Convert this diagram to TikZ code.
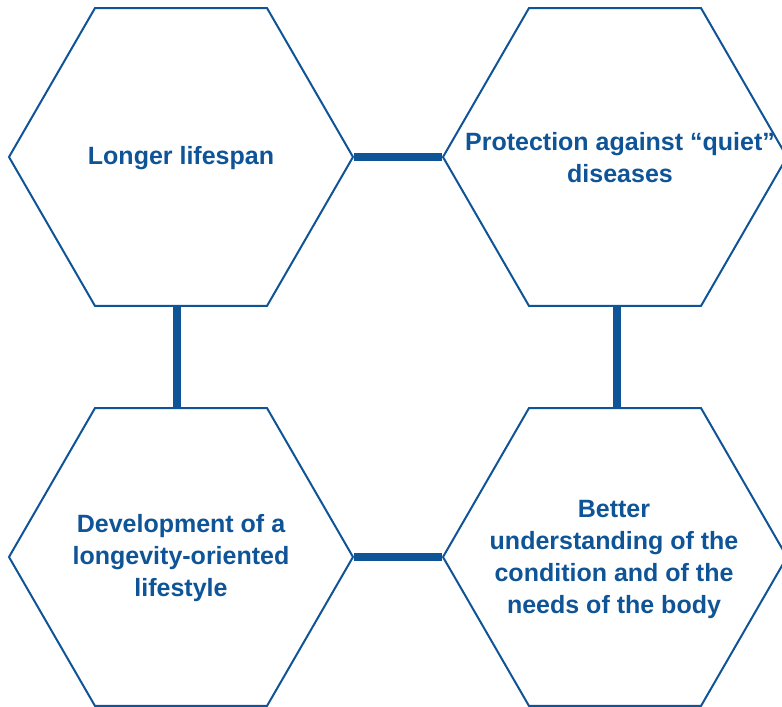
\documentclass[tikz,border=0pt]{standalone}
\usepackage{fontspec}
\setmainfont{Liberation Sans}
\usetikzlibrary{shapes.geometric,calc}
\definecolor{hexblue}{RGB}{14,84,150}

\begin{document}
\begin{tikzpicture}
[
x=1pt, y=1pt,
hexnode/.style={regular polygon, regular polygon sides=6, draw=hexblue, line width=2pt, minimum size=344pt, inner sep=0pt},
hexlabel/.style={font=\fontsize{25}{32}\selectfont\bfseries, text=hexblue, align=center},
linkline/.style={draw=hexblue, line width=7.5pt},
]
\useasboundingbox (0,0) rectangle (782,707);
\clip (0,0) rectangle (782,707);
%draw the hexagons
\node[hexnode] (life) at (181,550) {};
\node[hexnode] (quiet) at (615,550) {};
\node[hexnode] (style) at (181,150) {};
\node[hexnode] (body) at (615,150) {};
%draw the texts
\node[hexlabel] (lifetext) at (181,549) {Longer lifespan};
\node[hexlabel] (quiettext) at (620,549) {Protection against “quiet”\\diseases};
\node[hexlabel] (styletext) at (181,149) {Development of a\\longevity-oriented\\lifestyle};
\node[hexlabel] (bodytext) at (614,148) {Better\\understanding of the\\condition and of the\\needs of the body};
%draw the links
\draw[linkline] (life.east) -- (quiet.west);
\draw[linkline] (style.east) -- (body.west);
\draw[linkline] ([xshift=-4pt]life.south) -- ([xshift=-4pt]style.north);
\draw[linkline] ([xshift=2pt]quiet.south) -- ([xshift=2pt]body.north);
\end{tikzpicture}
\end{document}
